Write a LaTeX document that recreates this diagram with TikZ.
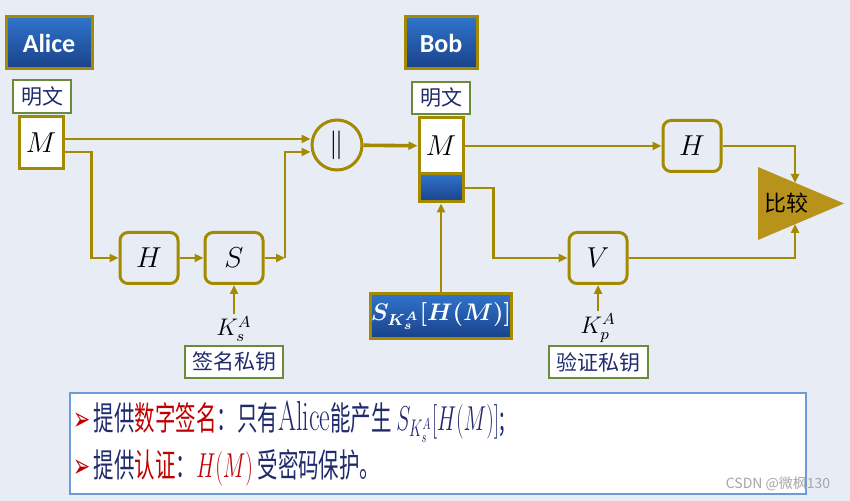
\documentclass[tikz,border=0pt]{standalone}
\usepackage{fontspec}
\usepackage{amsmath,amssymb}
\usepackage{graphicx}
\usepackage{xcolor}
\usetikzlibrary{positioning, calc, arrows.meta}
\newfontfamily\cjk{Noto Sans CJK SC}
\newfontfamily\cbri{Carlito}
\newfontfamily\dvs{DejaVu Sans}
\definecolor{gold}{HTML}{A38A00}
\definecolor{goldfill}{HTML}{B8931C}
\definecolor{keygreen}{HTML}{6A8A3C}
\definecolor{navy}{HTML}{1F2B6C}
\definecolor{hired}{HTML}{C00000}
\definecolor{bgblue}{HTML}{E7ECF5}
\definecolor{boxblue}{HTML}{6E9AD6}
\definecolor{topblue}{HTML}{2F74CC}
\definecolor{botblue}{HTML}{1A4189}

\begin{document}
\begin{tikzpicture}[x=0.5pt, y=-0.5pt,
    flow/.style={draw=gold, line width=1.2pt, -{Triangle[length=4.5pt,width=4pt]}},
    party/.style={draw=gold, line width=1.5pt, top color=topblue, bottom color=botblue, text=white, font=\cbri\bfseries\fontsize{13}{15}\selectfont, inner sep=0pt},
    tag/.style={draw=keygreen, line width=1pt, fill=white, text=navy, font=\cjk\fontsize{10.5}{12}\selectfont, inner sep=0pt},
    msgbox/.style={draw=gold, line width=1.5pt, fill=white, minimum width=22pt, inner sep=0pt, font=\fontsize{14}{16}\selectfont},
    fnbox/.style={draw=gold, line width=1.5pt, rounded corners=4pt, minimum width=29pt, minimum height=25.5pt, inner sep=0pt, font=\fontsize{14}{16}\selectfont},
    keylbl/.style={inner sep=1pt, font=\fontsize{12}{14}\selectfont},
    bullet/.style={anchor=west, inner sep=0pt, text=navy, font=\cjk\fontsize{16.5}{20}\selectfont}]

    \useasboundingbox (0,0) rectangle (850,501);

    % Slide background
    \fill[bgblue] (0,0) rectangle (850,501);

    % Sender and receiver titles
    \node[party, minimum width=43pt, minimum height=26pt] (alice) at (49,43) {Alice};
    \node[party, minimum width=36pt, minimum height=26pt] (bob) at (441,43) {Bob};

    % Plaintext tags and message boxes
    \node[tag, minimum width=29pt, minimum height=16.5pt] (aPlain) at (42,96.5) {明文};
    \node[tag, minimum width=29pt, minimum height=16pt] (bPlain) at (441,98) {明文};
    \node[msgbox, minimum height=26pt] (aM) at (41,143) {$M$};
    \node[msgbox, minimum height=28pt] (bM) at (441,146) {$M$};
    \node[msgbox, minimum height=14pt, top color=topblue, bottom color=botblue] (bSig) at (441,188) {};

    % Concatenation
    \node[draw=gold, line width=1.5pt, circle, minimum size=25pt, inner sep=0pt, font=\fontsize{14}{16}\selectfont] (cat) at (337,145) {$\|$};

    % Hash, sign and verify blocks
    \node[fnbox] (hA) at (149,258) {$H$};
    \node[fnbox] (sA) at (234,258) {$S$};
    \node[fnbox] (hB) at (692,146) {$H$};
    \node[fnbox] (vB) at (598,258) {$V$};

    % Keys
    \node[keylbl] (ks) at (234,329) {$K_s^A$};
    \node[keylbl] (kp) at (598,328) {$K_p^A$};
    \node[tag, minimum width=49pt, minimum height=16pt] (sKey) at (234,362) {签名私钥};
    \node[tag, minimum width=49.5pt, minimum height=16pt] (pKey) at (598,362) {验证私钥};

    % Received signature
    \node[party, font=\boldmath\fontsize{12}{14}\selectfont, minimum width=65pt, minimum height=22.5pt] (sig) at (441,316) {$S_{K_s^A}[H(M)]$};

    % Comparator
    \fill[goldfill] (758,167) coordinate (cmpTop) -- (844,203.5) coordinate (cmpTip) -- (758,240) coordinate (cmpBot) -- cycle;
    \node[font=\cjk\fontsize{11}{13}\selectfont] (cmp) at (786,203) {比较};
    \coordinate (cmpIn1) at (795,183);
    \coordinate (cmpIn2) at (795,224);

    % Sender side
    \draw[flow] ([yshift=2pt]aM.east) -- ([yshift=2pt]aM.east -| cat.west);
    \draw[flow] ([yshift=-4.5pt]aM.east) -- ++(27,0) |- (hA);
    \draw[flow] (hA) -- (sA);
    \coordinate (sUp) at (285,258);
    \draw[flow] (sA) -- (sUp);
    \draw[flow] (sUp) |- ([yshift=-3.5pt]cat.west);
    \draw[flow] (ks) -- (sA);
    \draw[flow, line width=1.8pt] (cat) -- (bM);

    % Receiver side
    \draw[flow] (bM) -- (hB);
    \draw[flow] (bSig.east) -- ++(29,0) |- (vB);
    \draw[flow] (sig) -- (bSig);
    \draw[flow] (kp) -- (vB);
    \draw[flow] (hB) -| (cmpIn1);
    \draw[flow] (vB) -| (cmpIn2);

    % Summary box
    \node[draw=boxblue, line width=1.2pt, fill=white, minimum width=368pt, minimum height=50.5pt, inner sep=0pt] (note) at (438,443.5) {};
    \node[bullet] (pt1) at (73,422) {\scalebox{0.62}[1]{{\dvs\color{hired}➢}\,提供\textcolor{hired}{数字签名}：只有{\rmfamily\fontsize{21}{24}\selectfont Alice}能产生 $S_{K_s^A}[H(M)]$;}};
    \node[bullet] (pt2) at (73,468) {\scalebox{0.62}[1]{{\dvs\color{hired}➢}\,提供\textcolor{hired}{认证}：\textcolor{hired}{$H(M)$} 受密码保护。}};

    % Watermark
    \node[text=gray!70, font=\cjk\fontsize{7}{8}\selectfont] (mark) at (778,484) {CSDN @微枫130};

\end{tikzpicture}
\end{document}
